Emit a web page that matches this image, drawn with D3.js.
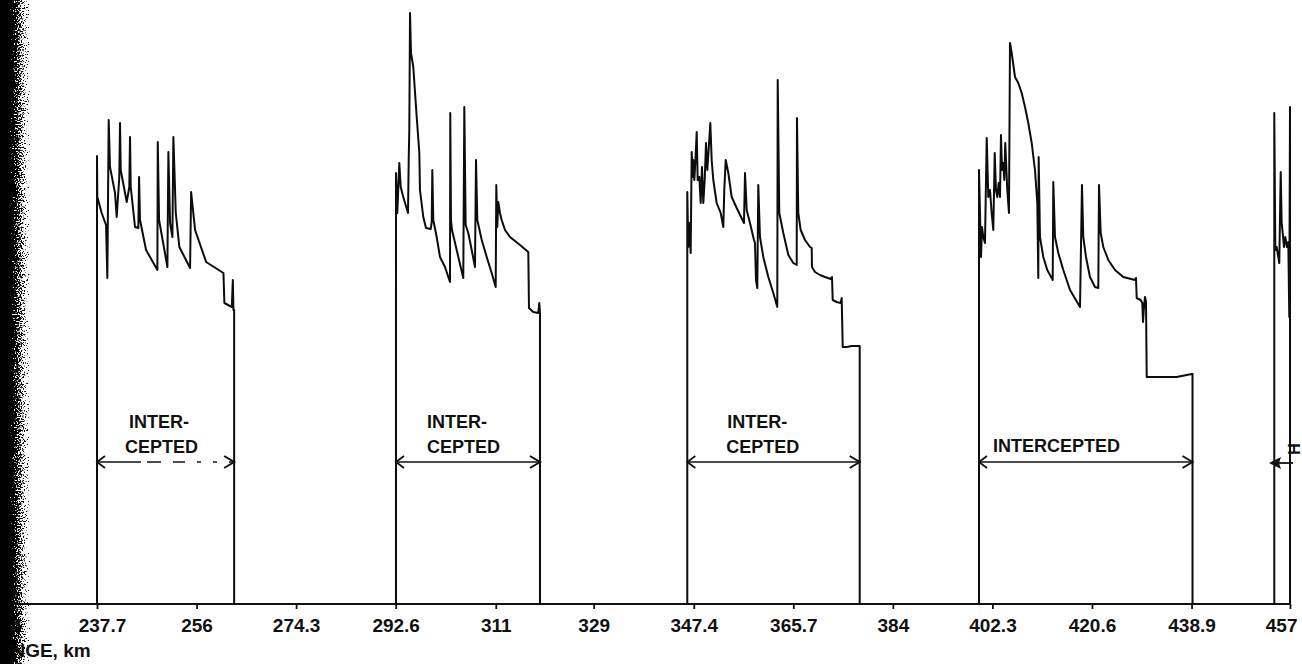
<!DOCTYPE html>
<html>
<head>
<meta charset="utf-8">
<script src="https://cdn.jsdelivr.net/npm/d3@7"></script>
<style>
  html, body { margin: 0; padding: 0; background: #fff; }
  svg { display: block; }
  text { font-family: "Liberation Sans", Arial, Helvetica, sans-serif; font-weight: bold; fill: #111; }
</style>
</head>
<body>
<svg id="chart" width="1302" height="664"></svg>
<script>
// Range axis (km) ticks and their printed labels
const xTickValues = [219.4, 237.7, 256, 274.3, 292.6, 311, 329, 347.4, 365.7, 384, 402.3, 420.6, 438.9, 457];
const xTickLabels = ["219.4", "237.7", "256", "274.3", "292.6", "311", "329", "347.4", "365.7", "384", "402.3", "420.6", "438.9", "457"];
const xAxisTitle = "RANGE, km";

// Intercepted stretch 1
const seg1Range = [237.70, 262.91];
const seg1Km = [237.70, 237.76, 238.56, 239.36, 239.60, 239.85, 240.09, 241.01, 241.32, 241.80, 241.93, 242.06, 243.16, 243.64, 243.77, 243.90, 244.69, 245.30, 245.43, 245.61, 246.72, 248.80, 248.87, 249.11, 250.64, 250.82, 251.13, 251.56, 251.74, 252.18, 252.84, 254.81, 255.00, 255.73, 257.76, 260.94, 261.12, 262.48, 262.67, 262.78, 262.91];
const seg1Level = [448, 407, 391, 379, 326, 484, 437, 411, 387, 427, 481, 434, 402, 417, 467, 417, 377, 376, 427, 384, 354, 334, 462, 384, 337, 452, 381, 367, 467, 391, 357, 336, 412, 374, 342, 331, 301, 297, 324, 294, 294];

// Intercepted stretch 2
const seg2Range = [292.66, 319.13];
const seg2Km = [292.66, 292.90, 293.27, 293.53, 294.00, 294.87, 295.00, 295.11, 295.24, 295.42, 295.84, 296.47, 296.95, 297.07, 297.68, 298.18, 299.04, 299.23, 299.34, 299.52, 300.14, 300.75, 301.67, 302.59, 302.64, 302.77, 302.96, 303.82, 305.03, 305.22, 305.47, 305.95, 306.58, 307.18, 307.37, 307.61, 308.42, 309.34, 310.25, 310.99, 311.10, 311.28, 311.47, 311.78, 312.09, 312.70, 313.62, 315.46, 316.98, 317.11, 317.90, 318.82, 319.00, 319.13];
const seg2Level = [431, 391, 441, 417, 407, 391, 444, 474, 591, 551, 537, 487, 451, 414, 387, 376, 375, 382, 434, 384, 367, 347, 337, 322, 491, 384, 374, 354, 326, 497, 379, 371, 354, 337, 444, 384, 364, 347, 331, 317, 419, 377, 402, 391, 384, 374, 367, 359, 352, 296, 292, 291, 301, 291];

// Intercepted stretch 3
const seg3Range = [346.21, 377.90];
const seg3Km = [346.21, 346.39, 346.58, 346.83, 347.02, 347.20, 347.31, 347.50, 347.68, 347.94, 348.12, 348.42, 348.67, 348.91, 349.15, 349.41, 349.65, 349.89, 350.25, 350.44, 350.69, 350.99, 351.61, 352.35, 352.83, 353.01, 353.27, 353.75, 354.37, 355.29, 356.63, 356.82, 357.13, 357.73, 358.47, 358.65, 358.84, 359.08, 359.26, 359.57, 360.18, 361.10, 362.02, 362.75, 362.83, 363.12, 363.86, 364.78, 365.69, 366.32, 366.37, 366.61, 367.05, 367.85, 368.76, 369.08, 369.13, 369.68, 370.60, 371.52, 372.57, 372.81, 372.94, 373.67, 374.41, 374.59, 374.78, 375.51, 376.43, 377.90];
const seg3Level = [412, 357, 381, 351, 452, 427, 444, 424, 441, 472, 424, 427, 401, 437, 401, 424, 461, 434, 464, 481, 444, 424, 401, 391, 377, 414, 444, 431, 407, 396, 381, 431, 394, 381, 364, 361, 324, 316, 419, 367, 347, 327, 311, 297, 524, 391, 371, 349, 341, 339, 486, 391, 374, 364, 357, 356, 337, 332, 329, 327, 325, 327, 304, 302, 301, 306, 257, 257, 258, 258];

// Intercepted stretch 4
const seg4Range = [399.83, 439.08];
const seg4Km = [399.83, 400.20, 400.38, 400.62, 400.93, 401.25, 401.54, 401.85, 402.16, 402.46, 402.72, 402.95, 403.19, 403.45, 403.69, 403.87, 404.06, 404.30, 404.48, 404.66, 405.03, 405.34, 405.53, 405.84, 406.45, 407.05, 407.68, 408.29, 408.89, 409.52, 410.12, 410.55, 410.73, 410.80, 411.04, 411.65, 412.38, 413.38, 413.49, 413.80, 414.41, 415.33, 416.56, 418.40, 418.76, 419.00, 419.50, 420.23, 421.15, 421.76, 421.89, 422.20, 422.68, 423.60, 424.83, 426.35, 428.51, 428.69, 428.82, 429.55, 429.85, 429.98, 430.16, 430.34, 430.53, 430.66, 433.10, 436.17, 438.93, 439.08];
const seg4Level = [434, 347, 377, 367, 361, 466, 407, 414, 391, 374, 451, 414, 407, 421, 407, 469, 434, 441, 424, 461, 414, 391, 561, 551, 527, 521, 511, 497, 481, 461, 434, 401, 326, 447, 367, 347, 334, 324, 422, 367, 351, 334, 314, 297, 419, 367, 347, 327, 317, 316, 419, 371, 357, 344, 334, 327, 324, 326, 306, 304, 301, 282, 297, 307, 302, 227, 227, 227, 230, 230];

// Intercepted stretch 5 (cut at the right edge)
const seg5Range = [454.11, 457.00];
const seg5Km = [454.11, 454.30, 454.55, 454.85, 455.03, 455.29, 455.47, 455.66, 455.89, 456.13, 456.45, 456.69, 456.87, 457.00];
const seg5Level = [491, 354, 357, 347, 341, 432, 381, 371, 357, 367, 357, 362, 287, 497];

// Stretch labels
const interceptLabels = [["INTER-", "CEPTED"], ["INTER-", "CEPTED"], ["INTER-", "CEPTED"], ["INTERCEPTED"]];

const segments = [
  { range: seg1Range, km: seg1Km, level: seg1Level },
  { range: seg2Range, km: seg2Km, level: seg2Level },
  { range: seg3Range, km: seg3Km, level: seg3Level },
  { range: seg4Range, km: seg4Km, level: seg4Level },
  { range: seg5Range, km: seg5Km, level: seg5Level }
];

const svg = d3.select("#chart");
const W = 1302, H = 664;

const x = d3.scaleLinear().domain([237.7, 457]).range([97, 1290]);
const y = d3.scaleLinear().domain([0, 600]).range([604, 4]);
const baseY = y(0);

// scanned-page edge on the left
const defs = svg.append("defs");
const grad = defs.append("linearGradient").attr("id", "edgeFade").attr("x1", 0).attr("x2", 1).attr("y1", 0).attr("y2", 0);
grad.append("stop").attr("offset", 0).attr("stop-color", "#000").attr("stop-opacity", 1);
grad.append("stop").attr("offset", 0.2).attr("stop-color", "#000").attr("stop-opacity", 1);
grad.append("stop").attr("offset", 0.5).attr("stop-color", "#000").attr("stop-opacity", 0.68);
grad.append("stop").attr("offset", 1).attr("stop-color", "#000").attr("stop-opacity", 0.3);
const filt = defs.append("filter").attr("id", "speckle").attr("x", 0).attr("y", 0).attr("width", 1).attr("height", 1)
  .attr("filterUnits", "objectBoundingBox").attr("color-interpolation-filters", "sRGB");
filt.append("feTurbulence").attr("type", "fractalNoise").attr("baseFrequency", 0.7).attr("numOctaves", 2).attr("seed", 7).attr("result", "noise");
filt.append("feColorMatrix").attr("in", "noise").attr("type", "matrix")
  .attr("values", "0 0 0 0 0  0 0 0 0 0  0 0 0 0 0  1 0 0 0 0").attr("result", "noiseA");
filt.append("feComposite").attr("in", "SourceGraphic").attr("in2", "noiseA").attr("operator", "arithmetic")
  .attr("k1", 0).attr("k2", 12).attr("k3", -12).attr("k4", 0);

// axis baseline
svg.append("line")
  .attr("x1", 0).attr("x2", x(457) + 1)
  .attr("y1", baseY).attr("y2", baseY)
  .attr("stroke", "#111").attr("stroke-width", 2.2);

const axis = d3.axisBottom(x)
  .tickValues(xTickValues)
  .tickFormat((d, i) => xTickLabels[i])
  .tickSizeInner(5).tickSizeOuter(0).tickPadding(10);

const gx = svg.append("g").attr("transform", `translate(0,${baseY})`).call(axis);
gx.select(".domain").remove();
gx.selectAll(".tick line").attr("stroke", "#111").attr("stroke-width", 1.8);
gx.selectAll(".tick text")
  .attr("fill", "#111")
  .style("font-family", '"Liberation Sans", Arial, sans-serif')
  .style("font-weight", "bold")
  .style("font-size", "19px");
gx.selectAll(".tick text").filter((d, i) => i === xTickValues.length - 1)
  .attr("text-anchor", "end").attr("x", 7);
gx.selectAll(".tick text").filter((d, i) => i === 1).attr("x", 5);

svg.append("text")
  .attr("x", -16).attr("y", 657)
  .style("font-size", "19px")
  .text(xAxisTitle);

// level traces for each intercepted stretch
const line = d3.line().x(d => x(d[0])).y(d => y(d[1]));
segments.forEach(s => {
  const pts = [[s.range[0], 0]];
  s.km.forEach((k, i) => pts.push([k, s.level[i]]));
  const last = pts[pts.length - 1];
  if (last[0] !== s.range[1]) pts.push([s.range[1], last[1]]);
  pts.push([s.range[1], 0]);
  svg.append("path")
    .attr("d", line(pts))
    .attr("fill", "none")
    .attr("stroke", "#0c0c0c")
    .attr("stroke-width", 2)
    .attr("stroke-linejoin", "round");
});

// double-headed span arrows with their captions
const arrowY = y(142);
const lineOffsets = [[32, 28], [31, 31], [40, 39], [14]];
interceptLabels.forEach((lines, i) => {
  const s = segments[i];
  const x0 = x(s.range[0]), x1 = x(s.range[1]);
  const g = svg.append("g");
  const shaft = g.append("line")
    .attr("x1", x0).attr("x2", x1 - 1)
    .attr("y1", arrowY).attr("y2", arrowY)
    .attr("stroke", "#111").attr("stroke-width", 1.7);
  if (i === 0) shaft.attr("stroke-dasharray", "44,6,14,12,12,12,4,12,4,12,200");
  g.append("path")
    .attr("d", `M${x0 + 8},${arrowY - 6}L${x0},${arrowY}L${x0 + 8},${arrowY + 6}`)
    .attr("fill", "none").attr("stroke", "#111").attr("stroke-width", 1.8);
  g.append("path")
    .attr("d", `M${x1 - 10},${arrowY - 6}L${x1},${arrowY}L${x1 - 10},${arrowY + 6}`)
    .attr("fill", "none").attr("stroke", "#111").attr("stroke-width", 2);
  const baselines = lines.length === 2 ? [arrowY - 34, arrowY - 9] : [arrowY - 10];
  lines.forEach((t, j) => {
    g.append("text")
      .attr("x", x0 + lineOffsets[i][j])
      .attr("y", baselines[j])
      .style("font-size", "18px")
      .text(t);
  });
});

// clipped caption of the last stretch at the right edge
{
  const xe = x(seg5Range[1]);
  svg.append("line")
    .attr("x1", xe - 14).attr("x2", xe + 3)
    .attr("y1", arrowY + 1).attr("y2", arrowY + 1)
    .attr("stroke", "#111").attr("stroke-width", 1.8);
  svg.append("path")
    .attr("d", `M${xe - 21},${arrowY + 1}L${xe - 9},${arrowY - 5}L${xe - 11},${arrowY + 1}L${xe - 9},${arrowY + 7}Z`)
    .attr("fill", "#111");
  svg.append("text")
    .attr("transform", `translate(${xe - 2},${arrowY - 13}) rotate(90)`)
    .attr("text-anchor", "middle")
    .style("font-size", "16px")
    .text("H");
}

// left edge speckle band
svg.append("rect")
  .attr("x", 0).attr("y", 0).attr("width", 30).attr("height", H)
  .attr("fill", "url(#edgeFade)")
  .attr("filter", "url(#speckle)");
</script>
</body>
</html>
